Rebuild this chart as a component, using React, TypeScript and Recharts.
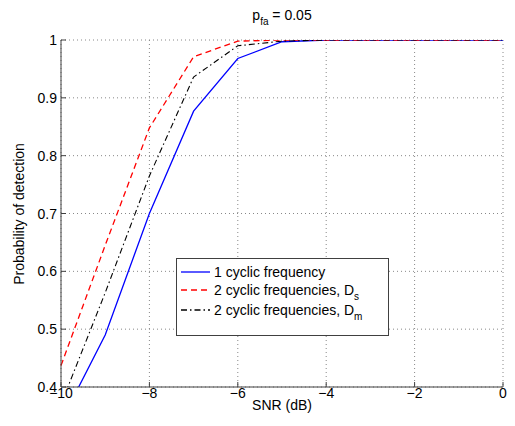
import React from 'react';
import { LineChart, Line, XAxis, YAxis, CartesianGrid } from 'recharts';

const snr = [-10, -9, -8, -7, -6, -5, -4, -3, -2, -1, 0];
const oneCyclic = [0.34, 0.49, 0.7, 0.877, 0.968, 0.997, 1, 1, 1, 1, 1];
const twoCyclicDs = [0.437, 0.645, 0.848, 0.971, 0.998, 1, 1, 1, 1, 1, 1];
const twoCyclicDm = [0.37, 0.563, 0.765, 0.936, 0.99, 0.998, 1, 1, 1, 1, 1];

const xTicks = [-10, -8, -6, -4, -2, 0];
const yTicks = [0.4, 0.5, 0.6, 0.7, 0.8, 0.9, 1];

const data = snr.map((x, i) => ({ x, a: oneCyclic[i], b: twoCyclicDs[i], c: twoCyclicDm[i] }));

const FONT = '"Liberation Sans", Arial, sans-serif';
const AXIS = '#404040';
const TICK = 5;

const fmtX = (v: number) => (v < 0 ? '\u2212' + Math.abs(v) : String(v));
const fmtY = (v: number) => String(Math.round(v * 10) / 10);

const BottomTick = (p: any) => (
  <g>
    <line x1={p.x} x2={p.x} y1={p.y} y2={p.y - TICK} stroke={AXIS} />
    <text x={p.x} y={p.y + 11} textAnchor="middle" fontSize={14} fontFamily={FONT} fill="#000">
      {fmtX(p.payload.value)}
    </text>
  </g>
);

const LeftTick = (p: any) => (
  <g>
    <line x1={p.x} x2={p.x + TICK} y1={p.y} y2={p.y} stroke={AXIS} />
    <text x={p.x - 4} y={p.y + 5} textAnchor="end" fontSize={14} fontFamily={FONT} fill="#000">
      {fmtY(p.payload.value)}
    </text>
  </g>
);

const TopTick = (p: any) => <line x1={p.x} x2={p.x} y1={p.y} y2={p.y + TICK} stroke={AXIS} />;
const RightTick = (p: any) => <line x1={p.x} x2={p.x - TICK} y1={p.y} y2={p.y} stroke={AXIS} />;

const legendRows = [
  { y: 14, color: '#0000ff', dash: undefined as string | undefined, text: '1 cyclic frequency', sub: '' },
  { y: 32, color: '#ff0000', dash: '6 4', text: '2 cyclic frequencies, D', sub: 's' },
  { y: 52, color: '#000000', dash: '6 3 1.5 3', text: '2 cyclic frequencies, D', sub: 'm' },
];

const LegendBox = () => (
  <g transform="translate(168,250)">
    <rect x={0.5} y={0.5} width={212} height={77} fill="#fff" stroke={AXIS} />
    {legendRows.map((r) => (
      <g key={r.text + r.sub}>
        <line x1={5} x2={34} y1={r.y} y2={r.y} stroke={r.color} strokeWidth={1.3} strokeDasharray={r.dash} />
        <text x={38} y={r.y + 5} fontSize={14} fontFamily={FONT} fill="#000">
          {r.text}
          {r.sub && (
            <tspan fontSize={10} dy={5}>
              {r.sub}
            </tspan>
          )}
        </text>
      </g>
    ))}
  </g>
);

export default function App() {
  return (
    <div style={{ position: 'relative', width: 507, height: 418 }}>
      <LineChart width={507} height={418} data={data} margin={{ top: 32, right: 12, bottom: 9, left: 0 }}>
        <CartesianGrid stroke="#888" strokeDasharray="1 3" />
        <XAxis
          dataKey="x"
          type="number"
          domain={[-10, 0]}
          ticks={xTicks}
          height={30}
          tickSize={0}
          tickMargin={0}
          tickLine={false}
          axisLine={{ stroke: AXIS }}
          tick={BottomTick}
          interval={0}
        />
        <XAxis
          xAxisId="top"
          orientation="top"
          type="number"
          domain={[-10, 0]}
          ticks={xTicks}
          height={0}
          tickSize={0}
          tickMargin={0}
          tickLine={false}
          axisLine={{ stroke: AXIS }}
          tick={TopTick}
          interval={0}
        />
        <YAxis
          type="number"
          domain={[0.4, 1]}
          ticks={yTicks}
          width={53}
          tickSize={0}
          tickMargin={0}
          tickLine={false}
          axisLine={{ stroke: AXIS }}
          tick={LeftTick}
          allowDataOverflow
          interval={0}
        />
        <YAxis
          yAxisId="right"
          orientation="right"
          type="number"
          domain={[0.4, 1]}
          ticks={yTicks}
          width={0}
          tickSize={0}
          tickMargin={0}
          tickLine={false}
          axisLine={{ stroke: AXIS }}
          tick={RightTick}
          interval={0}
        />
        <Line dataKey="a" type="linear" stroke="#0000ff" strokeWidth={1.3} dot={false} isAnimationActive={false} />
        <Line dataKey="b" type="linear" stroke="#ff0000" strokeWidth={1.3} strokeDasharray="6 4" dot={false} isAnimationActive={false} />
        <Line dataKey="c" type="linear" stroke="#000000" strokeWidth={1.1} strokeDasharray="6 3 1.5 3" dot={false} isAnimationActive={false} />
      </LineChart>
      <svg
        width={507}
        height={418}
        style={{ position: 'absolute', left: 0, top: 0, pointerEvents: 'none' }}
      >
        <LegendBox />
        <text x={274} y={12} textAnchor="middle" fontSize={14} fontFamily={FONT} fill="#000">
          p<tspan fontSize={10} dy={5}>fa</tspan>
          <tspan dy={-5}> = 0.05</tspan>
        </text>
        <text
          transform="translate(16,206) rotate(-90)"
          textAnchor="middle"
          fontSize={14}
          fontFamily={FONT}
          fill="#000"
        >
          Probability of detection
        </text>
        <text x={274} y={402} textAnchor="middle" fontSize={14} fontFamily={FONT} fill="#000">
          SNR (dB)
        </text>
      </svg>
    </div>
  );
}
